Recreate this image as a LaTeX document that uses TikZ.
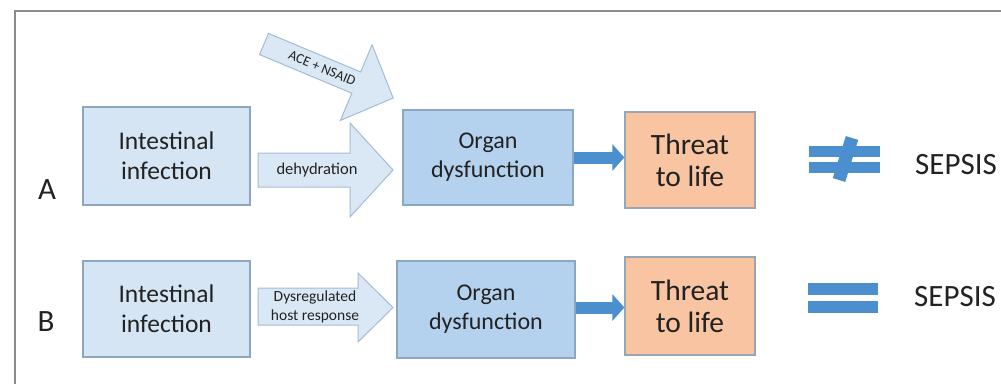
\documentclass[tikz,border=0pt]{standalone}
\usepackage{fontspec}
\setmainfont{Carlito}
\usetikzlibrary{arrows.meta,calc}
\definecolor{txt}{HTML}{222222}
\definecolor{paleblue}{HTML}{D5E5F3}
\definecolor{midblue}{HTML}{B4D2EE}
\definecolor{peach}{HTML}{F8C4A2}
\definecolor{boxedge}{HTML}{8DA7C2}
\definecolor{peachedge}{HTML}{98A6B4}
\definecolor{arrfill}{HTML}{DAE8F5}
\definecolor{arredge}{HTML}{A3BCD4}
\definecolor{strong}{HTML}{4C8FCF}
\definecolor{frame}{HTML}{8C8C8C}
\begin{document}
\begin{tikzpicture}[x=1pt,y=-1pt,
  box/.style={draw=boxedge, line width=1.2pt, align=center, text=txt, inner sep=0pt},
  bigtext/.style={font=\fontsize{25.5}{30}\selectfont},
  orgtext/.style={font=\fontsize{24}{29}\selectfont},
  thrtext/.style={font=\fontsize{29.5}{32}\selectfont},
  blockarrow/.style={fill=arrfill, draw=arredge, line width=1pt},
  smalltext/.style={text=txt, align=center, inner sep=0pt},
  fat/.style={strong, line width=12pt, -{Triangle[length=12pt,width=26pt]}},
  label/.style={text=txt, font=\fontsize{31}{32}\selectfont, inner sep=0pt}]
\useasboundingbox (0,0) rectangle (1001,384);
% frame
\draw[frame, line width=2pt] (15,384) -- (15,11) -- (1001,11);

% row A
\node[box, fill=paleblue, bigtext, minimum width=167, minimum height=98] (infA) at (166.5,156) {Intestinal\\infection};
\node[box, fill=midblue, orgtext, minimum width=170, minimum height=95] (orgA) at (488,157.5) {Organ\\dysfunction};
\node[box, fill=peach, draw=peachedge, thrtext, minimum width=130, minimum height=96] (thrA) at (690,160) {Threat\\to life};
\node[label] (lA) at (47,190) {A};

% row B
\node[box, fill=paleblue, bigtext, minimum width=167, minimum height=96] (infB) at (166.5,309) {Intestinal\\infection};
\node[box, fill=midblue, orgtext, minimum width=178, minimum height=97] (orgB) at (486,309.5) {Organ\\dysfunction};
\node[box, fill=peach, draw=peachedge, thrtext, minimum width=130, minimum height=98] (thrB) at (690,306) {Threat\\to life};
\node[label] (lB) at (46,322) {B};

% block arrows
\draw[blockarrow] (258,153) -- (350,153) -- (350,123) -- (393,170) -- (350,217) -- (350,187) -- (258,187) -- cycle;
\node[smalltext, font=\fontsize{16.5}{18}\selectfont] (dehyd) at (317,170) {dehydration};

\draw[blockarrow] (258,288) -- (358,288) -- (358,273) -- (393,307.5) -- (358,342) -- (358,325) -- (258,325) -- cycle;
\node[smalltext, font=\fontsize{15.5}{19.5}\selectfont] (dysreg) at (315,307) {Dysregulated\\host response};

\begin{scope}[shift={(264,44)}, rotate=-22.7]
\draw[blockarrow] (0,-11.5) -- (100,-11.5) -- (100,-41) -- (140,0) -- (100,41) -- (100,11.5) -- (0,11.5) -- cycle;
\node[smalltext, font=\fontsize{14}{15}\selectfont, rotate=-22.7] (ace) at (63,0) {ACE + NSAID};
\end{scope}

% strong arrows
\draw[fat] (orgA.east) -- (orgA.east -| thrA.west);
\draw[fat] ($(orgB.east)+(0,-2)$) -- ($(orgB.east -| thrB.west)+(0,-2)$);

% not equal
\fill[strong] (809,146) rectangle (880,157);
\fill[strong] (809,162) rectangle (880,173);
\draw[strong, line width=13pt] (852,138) -- (839,180);
\node[label] (sA) at (956,165) {SEPSIS};

% equal
\fill[strong] (808,283) rectangle (878,295);
\fill[strong] (808,301) rectangle (878,313);
\node[label] (sB) at (955,297) {SEPSIS};
\end{tikzpicture}
\end{document}
